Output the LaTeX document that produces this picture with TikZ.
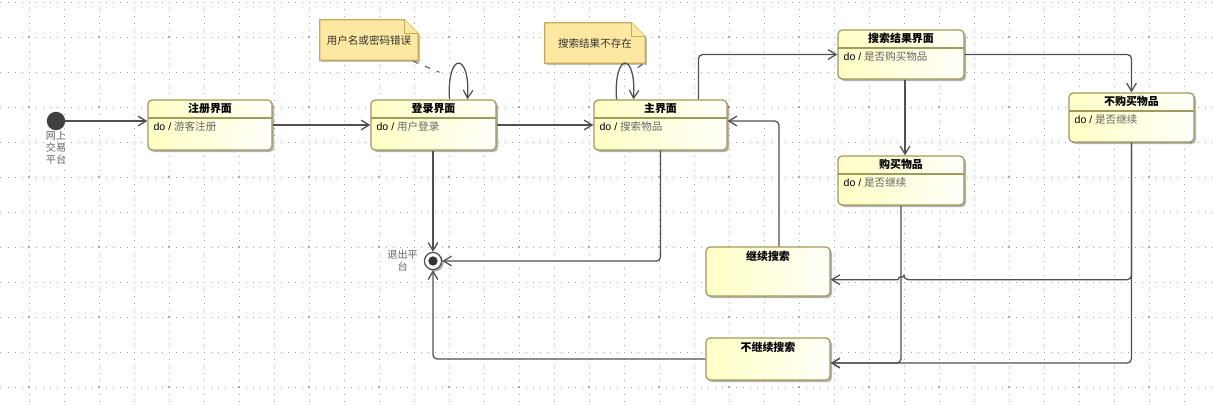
\documentclass[tikz,border=0pt]{standalone}
\usepackage{fontspec}
\setmainfont{Liberation Sans}
\newfontfamily\cjk{Noto Sans CJK SC}
\usetikzlibrary{arrows.meta,positioning,calc,shadows,backgrounds}
\definecolor{gridgray}{RGB}{165,165,165}
\definecolor{linegray}{RGB}{80,80,80}
\definecolor{stateborder}{RGB}{160,155,90}
\definecolor{statefill}{RGB}{255,255,196}
\definecolor{notefill}{RGB}{252,232,160}
\definecolor{noteborder}{RGB}{196,172,92}
\definecolor{acttext}{RGB}{100,100,100}
\tikzset{
  griddot/.style={gridgray,line width=0.6pt,dash pattern=on 0.6pt off 4.3792pt},
  statebox/.style={draw=stateborder,line width=0.9pt,rounded corners=3pt,
    left color=statefill,right color=white!92!statefill,
    minimum width=3.125cm,minimum height=1.25cm,inner sep=0pt,
    drop shadow={shadow xshift=0.05cm,shadow yshift=-0.05cm,opacity=0.3,fill=black}},
  divided/.style={path picture={\draw[stateborder,line width=0.9pt]
      ([yshift=-0.45cm]path picture bounding box.north west) --
      ([yshift=-0.45cm]path picture bounding box.north east);}},
  ttl/.style={font=\cjk\bfseries\fontsize{7.8}{9}\selectfont,inner sep=0pt},
  act/.style={font=\fontsize{7.5}{9}\selectfont,anchor=west,inner sep=0pt,text=acttext},
  lbl/.style={font=\cjk\fontsize{7.2}{8.6}\selectfont,text=acttext,align=center,inner sep=0pt},
  note/.style={font=\cjk\fontsize{7.5}{9}\selectfont,text=black!80,
    minimum height=1cm,inner sep=0pt},
  notebd/.style={draw=noteborder,fill=notefill,line width=0.8pt},
  notelink/.style={draw=linegray,line width=0.7pt,dash pattern=on 4pt off 5pt},
  initst/.style={circle,fill=black!75,minimum size=0.46cm,inner sep=0pt},
  finalst/.style={circle,draw=linegray,fill=white,line width=0.9pt,
    minimum size=0.43cm,inner sep=0pt,
    drop shadow={shadow xshift=0.05cm,shadow yshift=-0.05cm,opacity=0.3,fill=black},
    path picture={\fill[black!80] (path picture bounding box.center) circle[radius=3.3pt];}},
  tr/.style={draw=linegray,line width=0.9pt,rounded corners=3pt,
    -{Straight Barb[length=2mm,width=2.4mm]}}
}

\begin{document}
\begin{tikzpicture}[x=0.025cm,y=-0.025cm]
  \useasboundingbox (0,0) rectangle (1213,404);
  % dotted grid
  \begin{scope}[on background layer]
    \fill[white] (0,0) rectangle (1213,404);
    \foreach \gx in {29,64,...,1213} \draw[griddot] (\gx,1.5) -- (\gx,404);
    \foreach \gy in {2,37,...,404} \draw[griddot] (0.5,\gy) -- (1213,\gy);
    \foreach \gx in {29,99,...,1213}
      \foreach \gy in {37,107,...,404} \fill[gridgray] (\gx,\gy) circle[radius=0.9pt];
  \end{scope}

  % states
  \node[initst,label={[lbl]below:网上\\交易\\平台}] (init) at (56,121) {};
  \node[statebox,divided,minimum width=3.1cm] (reg) at (210,125) {};
  \node[statebox,divided] (login) at (433.5,125) {};
  \node[statebox,divided,minimum width=3.325cm] (main) at (660.5,125) {};
  \node[statebox,divided,minimum width=3.15cm,minimum height=1.225cm] (sres) at (901,54.5) {};
  \node[statebox,divided,minimum width=3.15cm,minimum height=1.225cm] (buy) at (901,180.5) {};
  \node[statebox,divided,minimum height=1.225cm] (nbuy) at (1131.5,117.5) {};
  \node[statebox,minimum width=3.1cm,minimum height=1.225cm] (cont) at (768,271.5) {};
  \node[statebox,minimum width=3.1cm,minimum height=1.05cm] (stop) at (768,359) {};
  \node[finalst,label={[lbl,label distance=4pt]left:退出平\\台}] (fin) at (433,261) {};

  \node[ttl] at ($(reg.north)+(0,9)$) {注册界面};
  \node[ttl] at ($(login.north)+(0,9)$) {登录界面};
  \node[ttl] at ($(main.north)+(0,9)$) {主界面};
  \node[ttl] at ($(sres.north)+(0,9)$) {搜索结果界面};
  \node[ttl] at ($(buy.north)+(0,9)$) {购买物品};
  \node[ttl] at ($(nbuy.north)+(0,9)$) {不购买物品};
  \node[ttl] at ($(cont.north)+(0,10)$) {继续搜索};
  \node[ttl] at ($(stop.north)+(0,10)$) {不继续搜索};

  \node[act] at ($(reg.north west)+(6,27)$) {\textcolor{black}{do /} {\cjk 游客注册}};
  \node[act] at ($(login.north west)+(6,27)$) {\textcolor{black}{do /} {\cjk 用户登录}};
  \node[act] at ($(main.north west)+(6,27)$) {\textcolor{black}{do /} {\cjk 搜索物品}};
  \node[act] at ($(sres.north west)+(6,27)$) {\textcolor{black}{do /} {\cjk 是否购买物品}};
  \node[act] at ($(buy.north west)+(6,27)$) {\textcolor{black}{do /} {\cjk 是否继续}};
  \node[act] at ($(nbuy.north west)+(6,27)$) {\textcolor{black}{do /} {\cjk 是否继续}};

  % notes
  \node[note,minimum width=2.45cm] (errnote) at (369,40) {用户名或密码错误};
  \node[note,minimum width=2.5cm] (nonote) at (595,43) {搜索结果不存在};
  \begin{scope}[on background layer]
    \foreach \nn in {errnote,nonote}{
      \filldraw[notebd,drop shadow={shadow xshift=0.04cm,shadow yshift=-0.04cm,opacity=0.25,fill=black}]
        (\nn.south west) -- (\nn.north west) -- ($(\nn.north east)+(-14,0)$)
        -- ($(\nn.north east)+(0,14)$) -- (\nn.south east) -- cycle;
      \draw[notebd] ($(\nn.north east)+(-14,0)$) |- ($(\nn.north east)+(0,14)$);
    }
  \end{scope}
  \draw[notelink] ($(errnote.south east)+(-5,1)$) -- ($(login.north)+(6,-27)$);
  \draw[notelink] ($(nonote.south east)+(-3,1)$) -- ($(main.north)+(-25,-30)$);

  % transitions
  \draw[tr] (init) -- (reg.west |- init);
  \draw[tr] (reg.east) -- (login.west);
  \draw[tr] (login.east) -- (main.west);
  \draw[tr] ($(login.north)+(16,0)$) .. controls +(-3,-48) and +(3,-48) .. ($(login.north)+(34,0)$);
  \draw[tr] ($(main.north)+(-44,0)$) .. controls +(-3,-48) and +(3,-48) .. ($(main.north)+(-27,0)$);
  \draw[tr] ($(main.north)+(38,0)$) |- (sres.west);
  \draw[tr] ($(sres.south)+(4,0)$) -- ($(buy.north)+(4,0)$);
  \draw[tr] (sres.east) -| (nbuy.north);
  \draw[tr] ($(cont.north)+(11,0)$) |- ($(main.east)+(0,-4)$);
  \draw[tr] (main.south) |- (fin.east);
  \draw[tr] (fin.north |- login.south) -- (fin.north);
  \draw[tr] (stop.west) -| (fin.south);
  \coordinate (jump) at ($(buy.south)+(0,74)$);
  \draw[tr] (nbuy.south) |- ($(jump)+(3,0)$) [sharp corners]
    arc[start angle=0,end angle=180,radius=2.1pt] -- (cont.east |- jump);
  \draw[tr] (nbuy.south) |- ($(stop.east)+(0,4)$);
  \draw[tr] (buy.south) |- ($(stop.east)+(0,4)$);
\end{tikzpicture}
\end{document}
